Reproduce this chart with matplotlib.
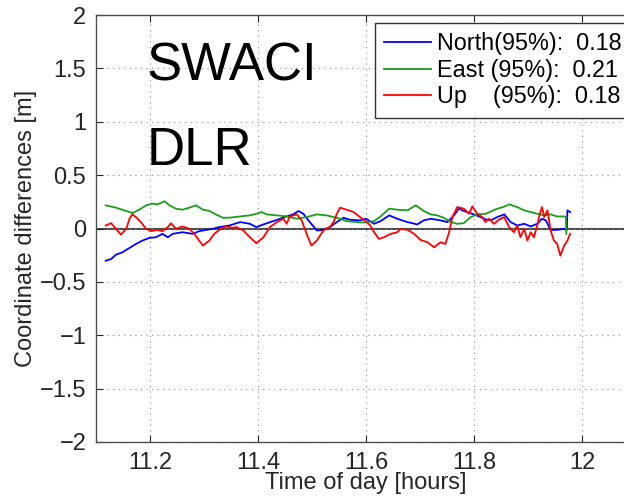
import numpy as np
import matplotlib
matplotlib.use("Agg")
import matplotlib.pyplot as plt

plt.rcParams["font.family"] = ["Liberation Sans", "DejaVu Sans"]

# values (hours, metres)
north_t = [11.118, 11.128, 11.137, 11.149, 11.162, 11.174, 11.186, 11.199, 11.211, 11.223,
           11.233, 11.242, 11.260, 11.279, 11.291, 11.304, 11.316, 11.328, 11.347, 11.367,
           11.385, 11.397, 11.410, 11.428, 11.441, 11.453, 11.465, 11.475, 11.484, 11.496,
           11.509, 11.521, 11.533, 11.546, 11.558, 11.570, 11.589, 11.600, 11.615, 11.627,
           11.643, 11.658, 11.677, 11.695, 11.707, 11.720, 11.738, 11.751, 11.763, 11.772,
           11.781, 11.800, 11.812, 11.822, 11.831, 11.843, 11.856, 11.868, 11.880, 11.893,
           11.905, 11.917, 11.926, 11.933, 11.942, 11.954, 11.967, 11.972, 11.973, 11.978]
north_v = [-0.302, -0.286, -0.245, -0.223, -0.182, -0.145, -0.113, -0.088, -0.082, -0.050,
           -0.082, -0.050, -0.035, -0.050, -0.025, -0.013, -0.003, 0.013, 0.028, 0.060,
           0.044, 0.013, 0.038, 0.069, 0.091, 0.113, 0.132, 0.164, 0.138, 0.060,
           -0.019, -0.013, 0.013, 0.060, 0.101, 0.082, 0.076, 0.091, 0.044, 0.069,
           0.123, 0.091, 0.060, 0.038, 0.076, 0.091, 0.076, 0.060, 0.123, 0.186,
           0.164, 0.132, 0.107, 0.085, 0.076, 0.107, 0.132, 0.060, 0.028, 0.044,
           0.019, 0.044, 0.091, 0.076, -0.013, -0.013, -0.003, -0.013, 0.170, 0.154]

east_t = [11.118, 11.137, 11.156, 11.168, 11.180, 11.193, 11.205, 11.214, 11.227, 11.236,
          11.248, 11.260, 11.273, 11.285, 11.298, 11.310, 11.322, 11.335, 11.347, 11.367,
          11.385, 11.397, 11.407, 11.416, 11.435, 11.453, 11.472, 11.490, 11.509, 11.527,
          11.540, 11.552, 11.564, 11.583, 11.596, 11.615, 11.627, 11.643, 11.658, 11.677,
          11.692, 11.707, 11.720, 11.732, 11.744, 11.757, 11.769, 11.781, 11.794, 11.806,
          11.822, 11.840, 11.856, 11.865, 11.880, 11.893, 11.905, 11.917, 11.930, 11.942,
          11.954, 11.967, 11.970, 11.971]
east_v = [0.217, 0.195, 0.164, 0.145, 0.176, 0.217, 0.233, 0.226, 0.255, 0.217,
          0.186, 0.176, 0.195, 0.217, 0.176, 0.164, 0.132, 0.101, 0.101, 0.113,
          0.123, 0.138, 0.154, 0.132, 0.123, 0.113, 0.091, 0.107, 0.132, 0.123,
          0.107, 0.091, 0.069, 0.060, 0.055, 0.069, 0.113, 0.186, 0.176, 0.170,
          0.217, 0.164, 0.132, 0.123, 0.101, 0.060, 0.044, 0.050, 0.107, 0.132,
          0.138, 0.180, 0.205, 0.226, 0.201, 0.170, 0.154, 0.138, 0.123, 0.132,
          0.113, 0.113, 0.107, -0.050]

up_t = [11.118, 11.128, 11.137, 11.146, 11.156, 11.162, 11.167, 11.174, 11.183, 11.193,
        11.202, 11.214, 11.223, 11.233, 11.239, 11.248, 11.260, 11.273, 11.282, 11.291,
        11.298, 11.310, 11.319, 11.331, 11.341, 11.353, 11.360, 11.373, 11.385, 11.397,
        11.410, 11.422, 11.435, 11.447, 11.453, 11.459, 11.472, 11.481, 11.490, 11.499,
        11.509, 11.521, 11.533, 11.540, 11.546, 11.552, 11.564, 11.577, 11.589, 11.601,
        11.608, 11.615, 11.624, 11.633, 11.646, 11.658, 11.664, 11.677, 11.689, 11.701,
        11.714, 11.726, 11.738, 11.747, 11.754, 11.760, 11.769, 11.781, 11.791, 11.797,
        11.806, 11.815, 11.821, 11.828, 11.837, 11.846, 11.856, 11.865, 11.874, 11.880,
        11.886, 11.893, 11.899, 11.905, 11.911, 11.917, 11.922, 11.926, 11.930, 11.936,
        11.942, 11.948, 11.954, 11.960, 11.967, 11.973, 11.978]
up_v = [0.028, 0.050, -0.003, -0.057, -0.003, 0.091, 0.132, 0.107, 0.060, -0.003,
        -0.025, -0.013, -0.025, 0.013, 0.050, -0.003, 0.019, -0.003, -0.050, -0.113,
        -0.160, -0.113, -0.050, -0.003, 0.019, 0.006, 0.013, -0.019, -0.082, -0.138,
        -0.082, 0.013, 0.060, 0.091, 0.044, 0.113, 0.132, 0.076, -0.050, -0.160,
        -0.113, -0.019, 0.013, 0.060, 0.138, 0.195, 0.176, 0.154, 0.107, 0.060,
        0.028, -0.035, -0.098, -0.082, -0.050, -0.035, -0.003, -0.013, -0.050, -0.107,
        -0.129, -0.176, -0.129, -0.145, -0.035, 0.107, 0.201, 0.186, 0.138, 0.208,
        0.138, 0.107, 0.060, 0.091, 0.044, 0.082, 0.107, 0.013, -0.035, 0.028,
        -0.082, -0.003, -0.113, -0.035, -0.082, 0.028, 0.138, 0.201, 0.107, 0.170,
        -0.019, -0.113, -0.145, -0.255, -0.160, -0.113, -0.050]

labels = ["North(95%):  0.18", "East (95%):  0.21", "Up    (95%):  0.18"]
xticks = [11.2, 11.4, 11.6, 11.8, 12]
yticks = [-2, -1.5, -1, -0.5, 0, 0.5, 1, 1.5, 2]

W, H = 624, 496
fig = plt.figure(figsize=(W / 100, H / 100), dpi=100)
ax = fig.add_axes([96 / W, 54 / H, 540 / W, 427 / H])

ax.plot(north_t, north_v, color=(0, 0, 1), lw=1.3, label=labels[0])
ax.plot(east_t, east_v, color=(0.1, 0.62, 0.1), lw=1.3, label=labels[1])
ax.plot(up_t, up_v, color=(1, 0, 0), lw=1.3, label=labels[2])
ax.axhline(0, color="0.3", lw=1.5, zorder=1)

ax.set_xlim(11.1, 12.1)
ax.set_ylim(-2, 2)
ax.set_xticks(xticks)
ax.set_xticklabels(["11.2", "11.4", "11.6", "11.8", "12"])
ax.set_yticks(yticks)
ax.set_yticklabels(["\u22122", "\u22121.5", "\u22121", "\u22120.5", "0", "0.5", "1", "1.5", "2"])
ax.grid(True, linestyle=(0, (1, 4)), color="0.55", lw=0.8)
ax.tick_params(direction="in", top=True, right=True, length=5, width=0.8,
               labelsize=17, colors="0.15", pad=7)
for s in ax.spines.values():
    s.set_color("0.3")
    s.set_linewidth(1.0)

ax.set_xlabel("Time of day [hours]", fontsize=17, color="0.15", labelpad=-1)
ax.set_ylabel("Coordinate differences [m]", fontsize=17, color="0.15", labelpad=2)

ax.text(11.193, 1.39, "SWACI", fontsize=38, va="baseline", ha="left")
ax.text(11.193, 0.595, "DLR", fontsize=38, va="baseline", ha="left")

leg = ax.legend(loc="upper left", bbox_to_anchor=(375 / W, 1 - 23 / H),
                bbox_transform=fig.transFigure, fontsize=16.8, frameon=True,
                fancybox=False, framealpha=1, edgecolor="0.2", borderpad=0.4,
                labelspacing=0.15, handlelength=2.0, handletextpad=0.25,
                borderaxespad=0)
leg.get_frame().set_linewidth(1.0)

fig.savefig("out.png", dpi=100)
